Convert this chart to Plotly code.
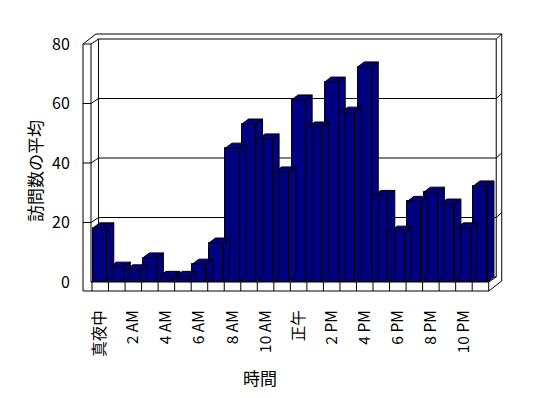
import plotly.graph_objects as go

# ---- data ----
categories = ["真夜中", "1 AM", "2 AM", "3 AM", "4 AM", "5 AM", "6 AM", "7 AM",
              "8 AM", "9 AM", "10 AM", "11 AM", "正午", "1 PM", "2 PM", "3 PM",
              "4 PM", "5 PM", "6 PM", "7 PM", "8 PM", "9 PM", "10 PM", "11 PM"]
visits = [18.2, 5.0, 4.1, 8.1, 1.9, 1.9, 6.0, 13.1, 45.0, 53.1, 48.1, 37.0,
          61.2, 52.1, 67.2, 57.1, 72.3, 29.1, 17.1, 27.1, 30.2, 26.2, 18.2, 32.3]
y_ticks = [0, 20, 40, 60, 80]
x_title = "時間"
y_title = "訪問数の平均"

# ---- layout geometry ----
W, H = 548, 398
ML, MR, MT, MB = 80, 43, 30, 103
PX_X = 16.53   # pixels per category
PX_Y = 2.975   # pixels per value unit
FRONT_LEFT_PX = 92 - ML     # category edge -0.5 sits 12 px into plot
FLOOR_PX = 282 - MT         # value 0 sits at this many px below plot top

plot_w = W - ML - MR
plot_h = H - MT - MB
x_lo = -0.5 - FRONT_LEFT_PX / PX_X
x_hi = x_lo + plot_w / PX_X
y_hi = FLOOR_PX / PX_Y
y_lo = y_hi - plot_h / PX_Y


def dxu(px):
    return px / PX_X


def dyu(px):
    return px / PX_Y


n = len(categories)
X0, X1 = -0.5, n - 0.5
YT = y_ticks[-1]
xa, xb = X0 - dxu(9), X0 - dxu(1)
DXI, DYI = dxu(7.5), dyu(5)
DXO, DYO = dxu(13), dyu(10)
FT = dyu(9)
NAVY = "#000080"

fig = go.Figure()

# 3D side / top faces, left to right
BW = 0.85
bdx, bdy = dxu(6.5), dyu(5)
for i, v in enumerate(visits):
    xl, xr = i - BW / 2, i + BW / 2
    xs = [xl, xr, xr + bdx, xl + bdx, xl, None, xr, xr + bdx, xr + bdx, xr, xr]
    ys = [v, v, v + bdy, v + bdy, v, None, v, v + bdy, bdy, 0, v]
    fig.add_trace(go.Scatter(x=xs, y=ys, mode="lines", fill="toself",
                             fillcolor=NAVY, line=dict(color="black", width=1),
                             hoverinfo="skip", showlegend=False))

# front faces
fig.add_trace(go.Bar(x=list(range(n)), y=visits, width=BW,
                     marker=dict(color=NAVY, line=dict(color="black", width=1)),
                     showlegend=False))


def ln(x0, y0, x1, y1):
    fig.add_shape(type="line", x0=x0, y0=y0, x1=x1, y1=y1, xref="x", yref="y",
                  layer="below", line=dict(color="black", width=1))


# left wall front face
ln(xa, YT, xa, -FT)
ln(xb, YT, xb, 0)
ln(xa, YT, xb, YT)
# floor front face
ln(xb, 0, X1, 0)
ln(xa, -FT, X1, -FT)
for k in range(n + 1):
    ln(X0 + k, 0, X0 + k, -FT)
# floor right face
ln(X1, 0, X1 + DXI, DYI)
ln(X1, -FT, X1 + DXO, -FT + DYO)
# back wall
ln(xb + DXI, YT + DYI, xb + DXI, DYI)
ln(X1 + DXI, YT + DYI, X1 + DXI, DYI)
ln(xb + DXI, YT + DYI, X1 + DXI, YT + DYI)
ln(xb + DXI, DYI, X1 + DXI, DYI)
ln(xb, YT, xb + DXI, YT + DYI)
ln(xb, 0, xb + DXI, DYI)
# outer edges
ln(xa, YT, xa + DXO, YT + DYO)
ln(xa + DXO, YT + DYO, X1 + DXO, YT + DYO)
ln(X1 + DXO, YT + DYO, X1 + DXO, -FT + DYO)
ln(X1 + DXI, YT + DYI, X1 + DXO, YT + DYO)
# gridlines
for v in y_ticks[1:-1]:
    ln(xa, v, xb, v)
    ln(xb, v, xb + DXI, v + DYI)
    ln(xb + DXI, v + DYI, X1 + DXI, v + DYI)
    ln(X1 + DXI, v + DYI, X1 + DXO, v + DYO)

FONT = "Noto Sans CJK JP"
tick_idx = list(range(0, n, 2))
fig.update_layout(
    width=W, height=H,
    margin=dict(l=ML, r=MR, t=MT, b=MB),
    paper_bgcolor="white", plot_bgcolor="white",
    font=dict(family=FONT, color="black", size=15),
    bargap=0,
    xaxis=dict(range=[x_lo, x_hi], showgrid=False, zeroline=False, showline=False,
               tickmode="array", tickvals=tick_idx,
               ticktext=[categories[i] for i in tick_idx],
               tickangle=-90, ticks="outside", ticklen=8,
               tickcolor="rgba(0,0,0,0)", tickfont=dict(size=15.5, family=FONT)),
    yaxis=dict(range=[y_lo, y_hi], showgrid=False, zeroline=False, showline=False,
               tickmode="array", tickvals=y_ticks, ticks="outside", ticklen=6,
               tickcolor="rgba(0,0,0,0)", tickfont=dict(size=16, family=FONT)),
    annotations=[
        dict(text=x_title, xref="paper", yref="paper",
             x=(259.5 - ML) / plot_w, y=(H - MB - 377.5) / plot_h,
             xanchor="center", yanchor="middle", showarrow=False,
             font=dict(size=17, family=FONT)),
        dict(text=y_title, xref="paper", yref="paper", textangle=-90,
             x=(34 - ML) / plot_w, y=(H - MB - 171) / plot_h,
             xanchor="center", yanchor="middle", showarrow=False,
             font=dict(size=17, family=FONT)),
    ],
)

fig.write_html("out.html")
